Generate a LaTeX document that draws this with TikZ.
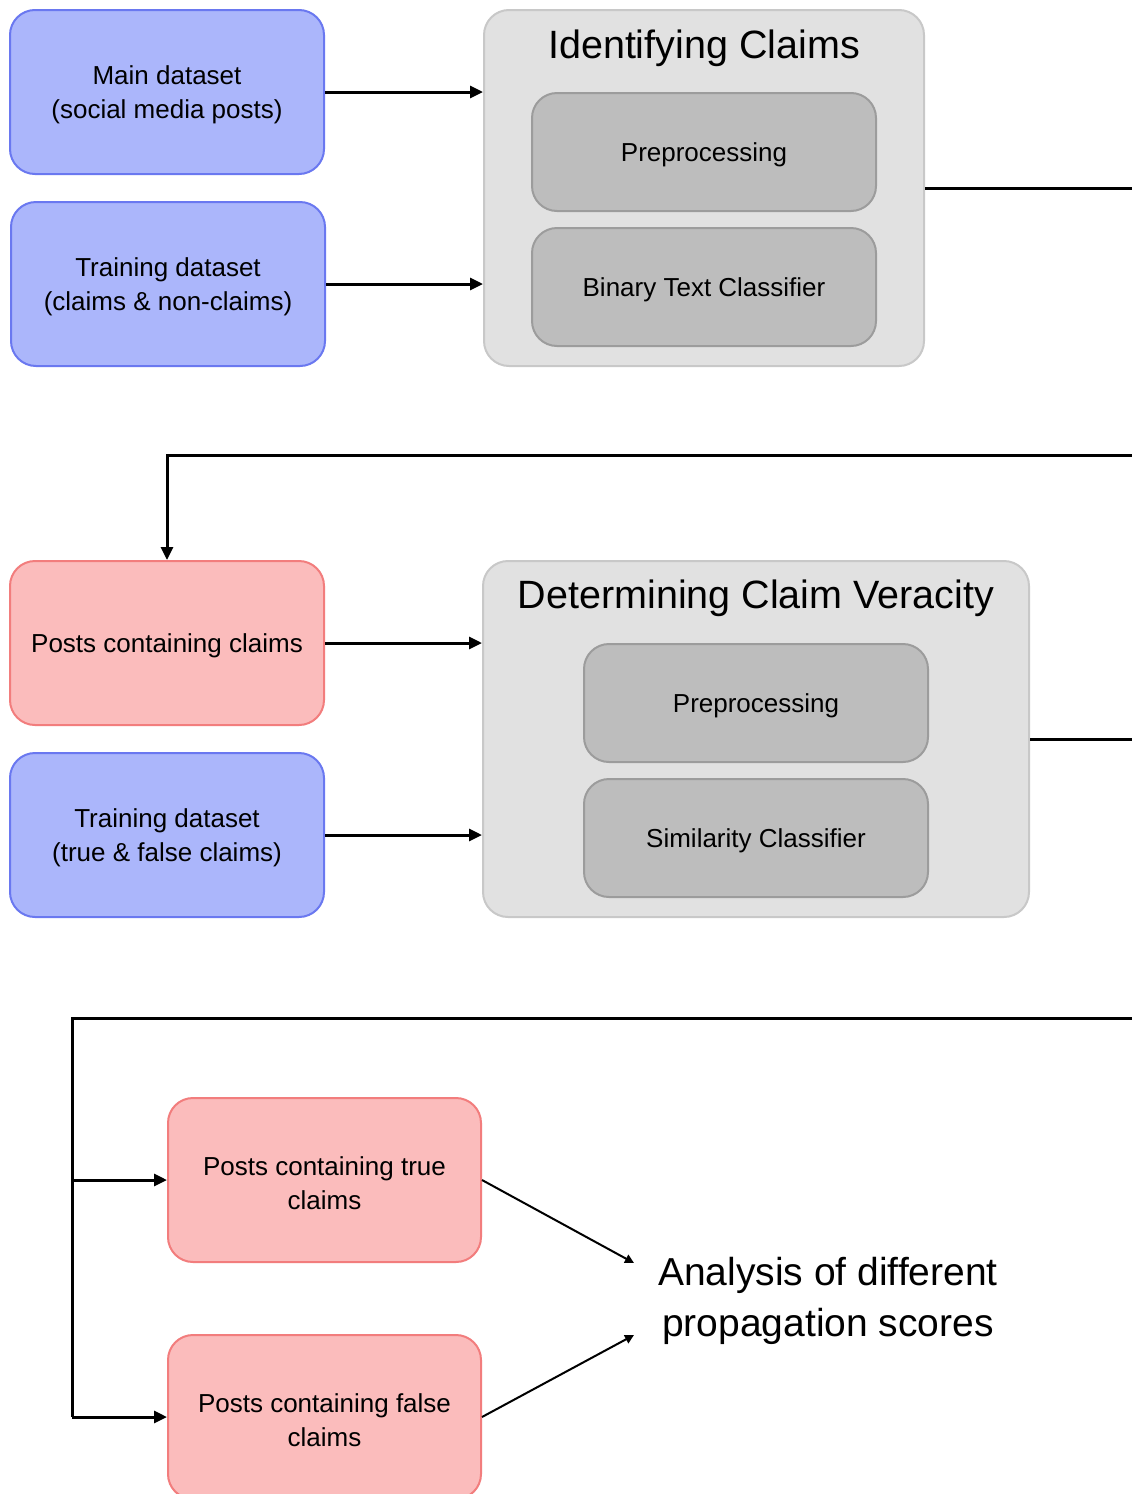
\documentclass[tikz,border=0pt]{standalone}
\usepackage{fontspec}
\setmainfont{Liberation Sans}
\usetikzlibrary{arrows.meta}
\definecolor{bluefill}{HTML}{ABB6FB}
\definecolor{blueline}{HTML}{6A78F0}
\definecolor{pinkfill}{HTML}{FBBCBC}
\definecolor{pinkline}{HTML}{F27D7D}
\definecolor{contfill}{HTML}{E1E1E1}
\definecolor{contline}{HTML}{C8C8C8}
\definecolor{innerfill}{HTML}{BDBDBD}
\definecolor{innerline}{HTML}{9C9C9C}
\tikzset{
  txt/.style={font=\fontsize{26}{34}\selectfont, align=center, text=black, inner sep=0pt, yshift=-3pt},
  databox/.style={draw=blueline, fill=bluefill, line width=2pt, rounded corners=25pt, minimum width=314pt, minimum height=164pt, inner sep=0pt},
  postbox/.style={draw=pinkline, fill=pinkfill, line width=2pt, rounded corners=25pt, minimum width=313pt, minimum height=164pt, inner sep=0pt},
  contbox/.style={draw=contline, fill=contfill, line width=2pt, rounded corners=25pt, minimum height=356pt, inner sep=0pt},
  innerbox/.style={draw=innerline, fill=innerfill, line width=2pt, rounded corners=25pt, minimum width=344pt, minimum height=118pt, inner sep=0pt},
  title/.style={font=\fontsize{39.5}{45}\selectfont, text=black, inner sep=0pt},
  thick arrow/.style={line width=3pt, -{Triangle[length=13pt,width=12pt]}},
  thick line/.style={line width=3pt},
  thin arrow/.style={line width=2pt, -{Triangle[length=9pt,width=9pt]}},
}
\begin{document}
\begin{tikzpicture}[x=1pt,y=-1pt]
\useasboundingbox (0,0) rectangle (1132,1494);
\clip (0,0) rectangle (1132,1494);
\fill[white] (0,0) rectangle (1132,1494);

% row 1
\node[databox] (main) at (167,92) {};
\node[txt] (main-t) at (main.center) {Main dataset\\(social media posts)};
\node[databox] (train1) at (168,284) {};
\node[txt] (train1-t) at (train1.center) {Training dataset\\(claims \& non-claims)};
\node[contbox, minimum width=440pt] (ic) at (704,188) {};
\node[title] (ictitle) at (704,48) {Identifying Claims};
\node[innerbox] (pre1) at (704,152) {};
\node[txt] (pre1-t) at (pre1.center) {Preprocessing};
\node[innerbox] (btc) at (704,287) {};
\node[txt] (btc-t) at (btc.center) {Binary Text Classifier};

\draw[thick arrow] (main.east) -- (main.east -| ic.west);
\draw[thick arrow] (train1.east) -- (train1.east -| ic.west);
\coordinate (r1) at (1132,188);
\draw[thick line] (ic.east) -- (r1);

% row 2
\node[postbox, minimum width=314pt] (pc) at (167,643) {};
\node[txt] (pc-t) at (pc.center) {Posts containing claims};
\node[databox] (train2) at (167,835) {};
\node[txt] (train2-t) at (train2.center) {Training dataset\\(true \& false claims)};
\node[contbox, minimum width=546pt] (dcv) at (756,739) {};
\node[title] (dcvtitle) at (756,598) {Determining Claim Veracity};
\node[innerbox] (pre2) at (756,703) {};
\node[txt] (pre2-t) at (pre2.center) {Preprocessing};
\node[innerbox] (sim) at (756,838) {};
\node[txt] (sim-t) at (sim.center) {Similarity Classifier};

\coordinate (r2) at (1132,455);
\coordinate (k2) at (167,455);
\draw[thick arrow] (r2) -- (k2) -- (pc.north);
\draw[thick arrow] (pc.east) -- (pc.east -| dcv.west);
\draw[thick arrow] (train2.east) -- (train2.east -| dcv.west);
\coordinate (r3) at (1132,739);
\draw[thick line] (dcv.east) -- (r3);

% row 3
\node[postbox] (tru) at (324.5,1180) {};
\node[txt] (tru-t) at (tru.center) {Posts containing true\\claims};
\node[postbox] (fal) at (324.5,1417) {};
\node[txt] (fal-t) at (fal.center) {Posts containing false\\claims};
\node[font=\fontsize{39}{51}\selectfont, align=center, inner sep=0pt] (ana) at (828,1301) {Analysis of different\\propagation scores};

\coordinate (r4) at (1132,1018);
\coordinate (k4) at (72,1018);
\coordinate (k5) at (72,1417);
\draw[thick line] (r4) -- (k4) -- (k5);
\draw[thick arrow] (k5) -- (fal.west);
\draw[thick arrow] (tru.west -| k4) -- (tru.west);

\coordinate (a1) at (634,1263);
\coordinate (a2) at (634,1335);
\draw[thin arrow] (tru.east) -- (a1);
\draw[thin arrow] (fal.east) -- (a2);
\end{tikzpicture}
\end{document}
